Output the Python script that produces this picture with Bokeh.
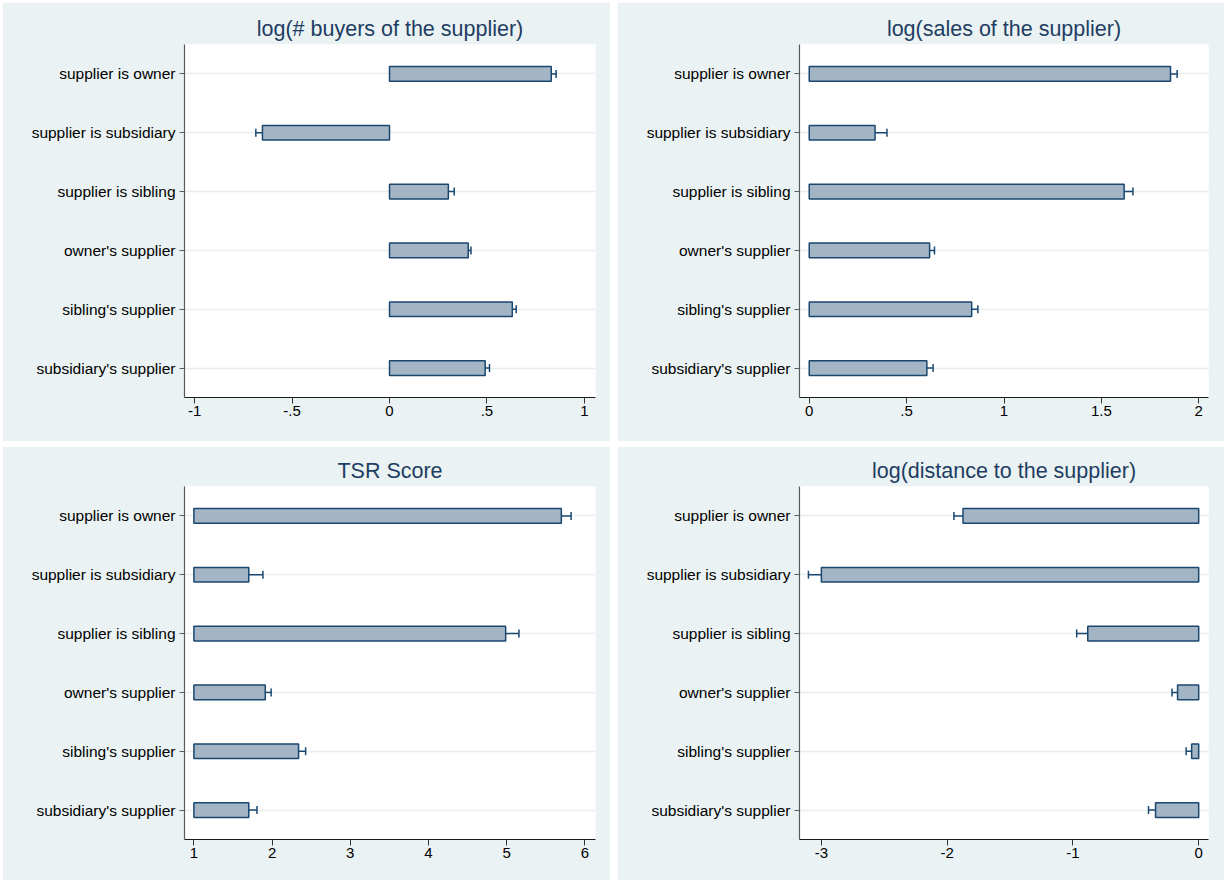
from bokeh.plotting import figure
from bokeh.layouts import column, row
from bokeh.models import (ColumnDataSource, Range1d, FixedTicker, Whisker, TeeHead)
from bokeh.embed import file_html
from bokeh.resources import INLINE

# Relationship categories, listed top to bottom
categories = ["supplier is owner", "supplier is subsidiary", "supplier is sibling",
              "owner's supplier", "sibling's supplier", "subsidiary's supplier"]

# log(# buyers of the supplier): estimate and 95% CI
buyers_est = [0.83, -0.652, 0.302, 0.404, 0.630, 0.491]
buyers_lo = [0.807, -0.686, 0.276, 0.392, 0.614, 0.475]
buyers_hi = [0.855, -0.618, 0.332, 0.418, 0.650, 0.513]

# log(sales of the supplier)
sales_est = [1.855, 0.338, 1.617, 0.618, 0.834, 0.604]
sales_lo = [1.823, 0.278, 1.571, 0.596, 0.804, 0.574]
sales_hi = [1.889, 0.399, 1.662, 0.643, 0.866, 0.636]

# TSR Score (bars drawn from a base of 1)
tsr_est = [5.699, 1.702, 4.987, 1.913, 2.339, 1.702]
tsr_lo = [5.584, 1.527, 4.826, 1.837, 2.239, 1.612]
tsr_hi = [5.824, 1.883, 5.157, 1.988, 2.429, 1.807]

# log(distance to the supplier)
dist_est = [-1.874, -3.0, -0.882, -0.168, -0.056, -0.343]
dist_lo = [-1.946, -3.103, -0.970, -0.212, -0.100, -0.399]
dist_hi = [-1.802, -2.903, -0.792, -0.131, -0.012, -0.296]

# x-axis ticks and their labels per panel
buyers_ticks = [-1, -0.5, 0, 0.5, 1]
buyers_tick_labels = ["-1", "-.5", "0", ".5", "1"]
sales_ticks = [0, 0.5, 1, 1.5, 2]
sales_tick_labels = ["0", ".5", "1", "1.5", "2"]
tsr_ticks = [1, 2, 3, 4, 5, 6]
tsr_tick_labels = ["1", "2", "3", "4", "5", "6"]
dist_ticks = [-3, -2, -1, 0]
dist_tick_labels = ["-3", "-2", "-1", "0"]

BG = "#EAF2F3"
NAVY = "#1A476F"
BAR_FILL = "#A3B4C5"
TITLE_COLOR = "#1E3D62"
FONT = "Liberation Sans"


def panel(title, est, lo, hi, base, xr, ticks, tick_labels,
          width, height, left, right, top, bottom):
    n = len(categories)
    ypos = [n - i for i in range(n)]
    src = ColumnDataSource(dict(y=ypos, est=est, lo=lo, hi=hi,
                                base=[base] * n, cat=categories))
    p = figure(width=width, height=height, output_backend="svg",
               toolbar_location=None, x_range=Range1d(*xr),
               y_range=Range1d(0.5, n + 0.5),
               min_border_left=left, min_border_right=right,
               min_border_top=top, min_border_bottom=bottom)
    p.background_fill_color = "white"
    p.border_fill_color = BG
    p.outline_line_color = None

    p.title.text = title
    p.title.align = "center"
    p.title.text_font = FONT
    p.title.text_font_size = "21.5px"
    p.title.text_font_style = "normal"
    p.title.text_color = TITLE_COLOR
    p.title.standoff = 7

    p.xgrid.visible = False
    p.ygrid.ticker = FixedTicker(ticks=ypos)
    p.ygrid.grid_line_color = "#E6EEF0"
    p.ygrid.grid_line_width = 1.5

    p.hbar(y="y", left="base", right="est", height=0.25, source=src,
           fill_color=BAR_FILL, line_color=NAVY, line_width=1.5)

    wk = Whisker(base="y", lower="lo", upper="hi", dimension="width", source=src,
                 line_color=NAVY, line_width=1.5,
                 lower_head=TeeHead(size=8, line_color=NAVY, line_width=1.5),
                 upper_head=TeeHead(size=8, line_color=NAVY, line_width=1.5))
    p.add_layout(wk)

    # category axis
    ya = p.yaxis[0]
    ya.ticker = FixedTicker(ticks=ypos)
    ya.major_label_overrides = {float(y): c for y, c in zip(ypos, categories)}
    ya.major_label_text_font = FONT
    ya.major_label_text_font_size = "15.5px"
    ya.major_label_text_color = "black"
    ya.major_tick_out = 5
    ya.major_tick_in = 0
    ya.minor_tick_line_color = None
    ya.major_label_standoff = 4
    ya.axis_line_color = "#5A5A5A"
    ya.major_tick_line_color = "#5A5A5A"
    ya.axis_line_width = 1.2

    xa = p.xaxis[0]
    xa.ticker = FixedTicker(ticks=ticks)
    xa.major_label_overrides = {float(t): s for t, s in zip(ticks, tick_labels)}
    xa.major_label_text_font = FONT
    xa.major_label_text_font_size = "15px"
    xa.major_label_text_color = "black"
    xa.major_tick_out = 6
    xa.major_tick_in = 0
    xa.minor_tick_line_color = None
    xa.major_label_standoff = 2
    xa.axis_line_color = "#1A1A1A"
    xa.major_tick_line_color = "#333333"
    xa.axis_line_width = 1.2
    return p


p1 = panel("log(# buyers of the supplier)", buyers_est, buyers_lo, buyers_hi, 0,
           (-1.052, 1.057), buyers_ticks, buyers_tick_labels,
           608, 439, 182, 15, 42, 44)
p2 = panel("log(sales of the supplier)", sales_est, sales_lo, sales_hi, 0,
           (-0.05, 2.05), sales_ticks, sales_tick_labels,
           607, 439, 182, 16, 42, 44)
p3 = panel("TSR Score", tsr_est, tsr_lo, tsr_hi, 1,
           (0.88, 6.136), tsr_ticks, tsr_tick_labels,
           608, 434, 182, 15, 40, 41)
p4 = panel("log(distance to the supplier)", dist_est, dist_lo, dist_hi, 0,
           (-3.174, 0.078), dist_ticks, dist_tick_labels,
           607, 434, 182, 16, 40, 41)

layout = column(row(p1, p2, spacing=7), row(p3, p4, spacing=7), spacing=5)
layout.margin = (2, 0, 0, 2)

open("out.html", "w").write(file_html(layout, INLINE))
